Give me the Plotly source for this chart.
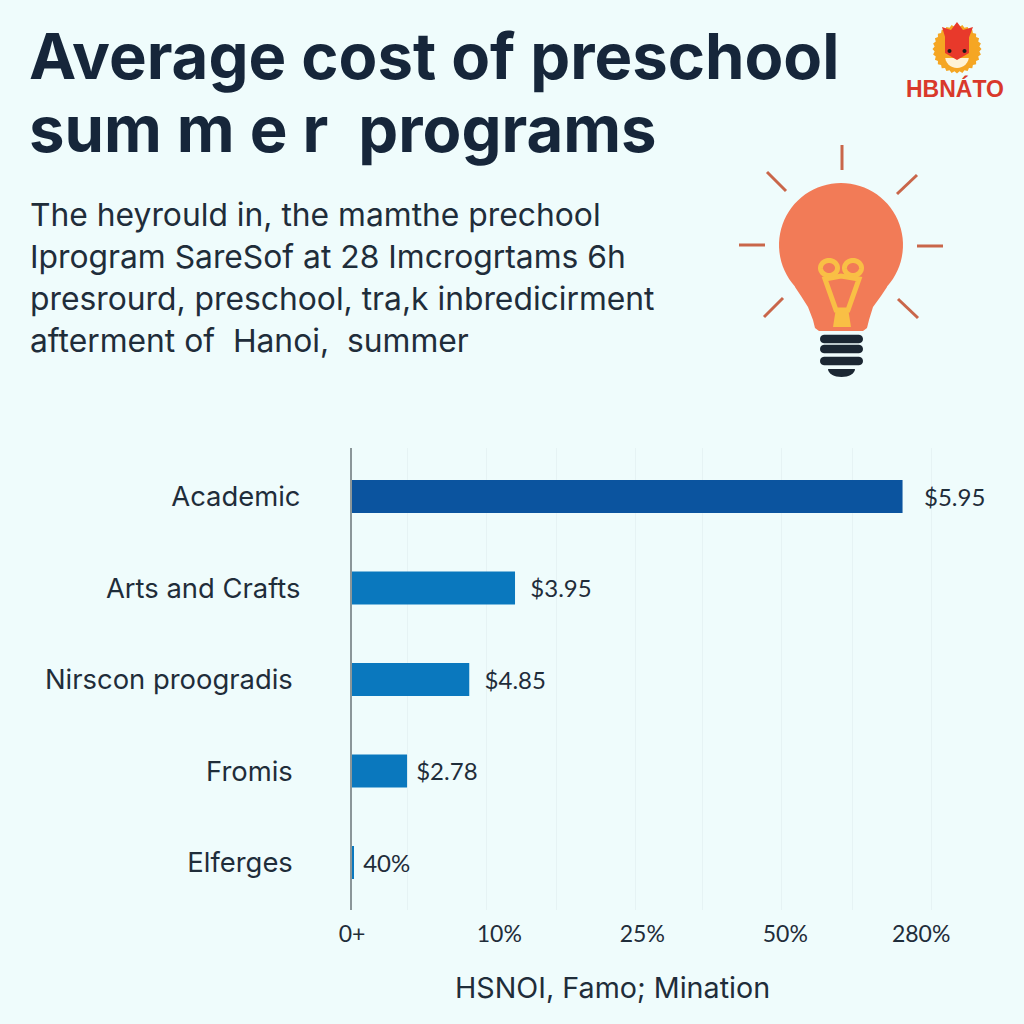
import math
import plotly.graph_objects as go

categories = ["Academic", "Arts and Crafts", "Nirscon proogradis", "Fromis", "Elferges"]
bar_values = [3.85, 1.14, 0.82, 0.385, 0.014]
bar_labels = ["$5.95", "$3.95", "$4.85", "$2.78", "40%"]
bar_colors = ["#0B549F", "#0A78BE", "#0A78BE", "#0A78BE", "#0A78BE"]
label_pad = ["\u00a0\u00a0\u00a0", "\u00a0\u00a0", "\u00a0\u00a0", "\u00a0", "\u00a0"]
cat_pad = ["", "", "\u00a0", "\u00a0", "\u00a0"]
x_tick_pos = [0, 1.03, 2.03, 3.03, 3.98]
x_tick_text = ["0+", "10%", "25%", "50%", "280%"]
grid_pos = [0.385, 0.94, 1.43, 1.98, 2.45, 3.0, 3.5, 4.05]

title_lines = ["Average cost of preschool", "sum m e r  programs"]
subtitle_lines = [
    "The heyrould in, the mamthe prechool",
    "Iprogram SareSof at 28 Imcrogrtams 6h",
    "presrourd, preschool, tra,k inbredicirment",
    "afterment of  Hanoi,  summer",
]
axis_title = "HSNOI, Famo; Mination"
logo_text = "HBNÁTO"

BG = "#EFFCFC"
INK = "#16263A"
TEXT = "#1F2D3A"
FONT = "Lato"
LABEL_FONT = "Inter"


def X(p):
    return p / 1024


def Y(p):
    return 1 - p / 1024


def path(points, close=True):
    s = "M" + " L".join(f"{X(a):.5f},{Y(b):.5f}" for a, b in points)
    return s + (" Z" if close else "")


def shape(d, fill=None, line=None, width=0):
    return dict(type="path", xref="paper", yref="paper", path=d, fillcolor=fill or "rgba(0,0,0,0)",
                line=dict(color=line or "rgba(0,0,0,0)", width=width), layer="above")


def ln(a, b, c, d, color, width):
    return dict(type="line", xref="paper", yref="paper", x0=X(a), y0=Y(b), x1=X(c), y1=Y(d),
                line=dict(color=color, width=width), layer="above")


def circle_pts(cx, cy, r, a0=0, a1=360, n=48, ry=None):
    ry = r if ry is None else ry
    return [(cx + r * math.cos(math.radians(a0 + (a1 - a0) * i / n)),
             cy + ry * math.sin(math.radians(a0 + (a1 - a0) * i / n))) for i in range(n + 1)]


def pill(x0, x1, yc, h):
    r = h / 2
    return circle_pts(x0 + r, yc, r, 90, 270, 10) + circle_pts(x1 - r, yc, r, 270, 450, 10)


shapes = []
# bulb rays
RAY = "#C9664A"
for a, b, c, d in [(842, 145, 842, 170), (767, 172, 786, 191), (917, 175, 897, 194), (739, 245, 765, 245),
                   (917, 246, 943, 246), (764, 317, 783, 298), (898, 299, 918, 318)]:
    shapes.append(ln(a, b, c, d, RAY, 3))
# bulb glass
glass = [(819, 331), (815, 328), (813, 320), (808, 307), (801, 296), (795, 287)]
glass += circle_pts(841, 245, 62, 138, 402, 60)
glass += [(887, 287), (881, 296), (873, 307), (869, 320), (867, 328), (863, 331)]
shapes.append(shape(path(glass), fill="#F27B57"))
# filament
FIL = "#F9BF45"
shapes.append(shape(path(circle_pts(829, 268, 8.5, ry=7.5)), line=FIL, width=5))
shapes.append(shape(path(circle_pts(853, 268, 8.5, ry=7.5)), line=FIL, width=5))
shapes.append(shape(path([(825, 279), (836, 310), (848, 310), (859, 279), (841, 276)]), line=FIL, width=5))
shapes.append(shape(path([(836, 308), (848, 308), (851, 327), (833, 327)]), fill=FIL))
# bulb base
for yy in [339, 349, 361]:
    shapes.append(shape(path(pill(820, 863, yy, 8.5)), fill="#1B2733"))
shapes.append(shape(path(circle_pts(841.5, 369, 13.5, 180, 0, 16, ry=8)), fill="#1B2733"))
# logo sun, crown, face
sun = []
for i in range(56):
    r = 24.5 if i % 2 == 0 else 22.5
    t = math.radians(i * 360 / 56)
    sun.append((957 + r * math.cos(t), 49 + r * math.sin(t)))
shapes.append(shape(path(sun), fill="#F5A623"))
shapes.append(shape(path(circle_pts(957, 56, 12, 10, 170, 14)), fill="#FFF3D6"))
shapes.append(shape(path([(942, 27), (951, 30), (957, 22), (963, 30), (973, 27), (968, 40), (946, 40)]), fill="#E8392B"))
shapes.append(shape(path([(945, 37), (969, 37), (969, 53), (957, 60), (945, 53)]), fill="#E8392B"))
shapes.append(shape(path(circle_pts(949.5, 51, 2, n=12)), fill="#1B1B1B"))
shapes.append(shape(path(circle_pts(964.5, 51, 2, n=12)), fill="#1B1B1B"))

annotations = []


def note(text, x, y, size, color=TEXT, weight=400, anchor="left", family=LABEL_FONT):
    annotations.append(dict(text=text, xref="paper", yref="paper", x=X(x), y=Y(y), xanchor=anchor, yanchor="middle",
                            showarrow=False, font=dict(family=family, size=size, color=color, weight=weight)))


note(title_lines[0], 27, 56, 63.4, INK, 700)
note(title_lines[1].replace("  ", "\u00a0\u00a0"), 27, 129, 63.4, INK, 700)
for text, yy in zip(subtitle_lines, [214, 256, 298, 340]):
    note(text.replace("  ", "\u00a0\u00a0"), 28, yy, 31.8)
note(axis_title, 612, 987, 28.7, anchor="center")
note(logo_text, 955, 88, 23, "#D9392B", 700, anchor="center", family="Liberation Sans")

fig = go.Figure(go.Bar(
    y=[c + p for c, p in zip(categories, cat_pad)],
    x=bar_values,
    orientation="h",
    width=0.36,
    marker=dict(color=bar_colors, line=dict(width=0)),
    text=[p + t for p, t in zip(label_pad, bar_labels)],
    textposition="outside",
    constraintext="none",
    cliponaxis=False,
    textfont=dict(family=FONT, size=24, color=TEXT),
    showlegend=False,
))
fig.update_layout(
    width=1024, height=1024, margin=dict(l=0, r=0, t=0, b=0, autoexpand=False),
    paper_bgcolor=BG, plot_bgcolor=BG, shapes=shapes, annotations=annotations,
    bargap=0.64,
)
fig.update_xaxes(
    domain=[X(352), 1], range=[0, (1024 - 352) / 143], tickmode="array", tickvals=x_tick_pos, ticktext=x_tick_text,
    showgrid=False, zeroline=False, showline=False, ticks="", ticklabelstandoff=8,
    tickfont=dict(family=FONT, size=23, color=TEXT),
    minor=dict(tickmode="array", tickvals=grid_pos, showgrid=True, gridcolor="#E6F3F4", gridwidth=1, ticks=""),
)
fig.update_yaxes(
    domain=[Y(910), Y(448)], range=[4.52, -0.53], showline=True, linecolor="#8B9699", linewidth=2,
    showgrid=False, zeroline=False, ticks="", ticklabelstandoff=44, automargin=False,
    tickfont=dict(family=LABEL_FONT, size=27.4, color=TEXT),
)
fig.write_html("out.html", config={"displayModeBar": False}, post_script="document.body.style.margin='0';")
